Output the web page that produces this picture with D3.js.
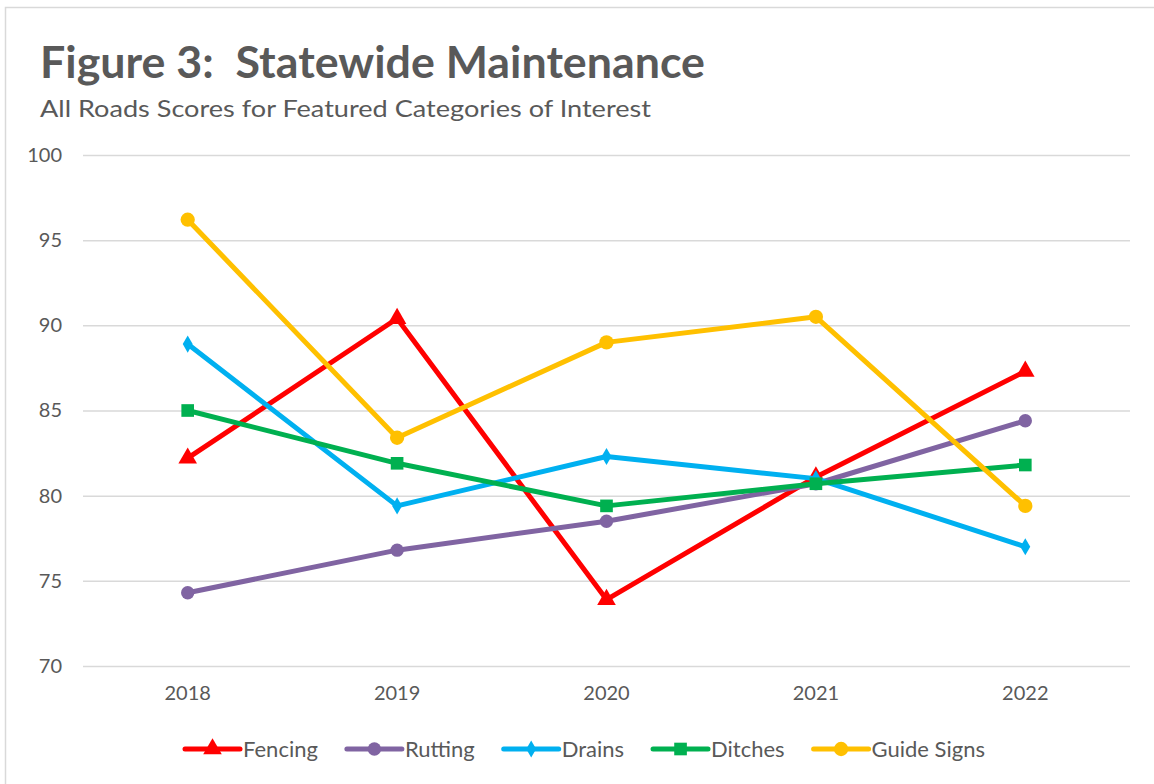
<!DOCTYPE html>
<html>
<head>
<meta charset="utf-8">
<script src="https://cdn.jsdelivr.net/npm/d3@7"></script>
<style>
  html, body { margin: 0; padding: 0; background: #fff; }
  svg { display: block; }
  text { font-family: Lato, "Open Sans", sans-serif; fill: #595959; }
</style>
</head>
<body>
<svg id="chart" width="1154" height="784"></svg>
<script>
const years = ["2018", "2019", "2020", "2021", "2022"];
const yTicks = [70, 75, 80, 85, 90, 95, 100];
const seriesNames = ["Fencing", "Rutting", "Drains", "Ditches", "Guide Signs"];
const fencing    = [82.2, 90.4, 73.9, 81.1, 87.3];
const rutting    = [74.3, 76.8, 78.5, 80.7, 84.4];
const drains     = [88.9, 79.4, 82.3, 81.0, 77.0];
const ditches    = [85.0, 81.9, 79.4, 80.7, 81.8];
const guideSigns = [96.2, 83.4, 89.0, 90.5, 79.4];
const titleText = "Figure 3:  Statewide Maintenance";
const subtitleText = "All Roads Scores for Featured Categories of Interest";

const series = [
  { name: seriesNames[0], values: fencing,    color: "#FF0000", symbol: d3.symbolTriangle, size: 150 },
  { name: seriesNames[1], values: rutting,    color: "#8064A2", symbol: d3.symbolCircle,   size: 140 },
  { name: seriesNames[2], values: drains,     color: "#00B0F0", symbol: d3.symbolDiamond,  size: 85 },
  { name: seriesNames[3], values: ditches,    color: "#00B050", symbol: d3.symbolSquare,   size: 160 },
  { name: seriesNames[4], values: guideSigns, color: "#FFC000", symbol: d3.symbolCircle,   size: 160 }
];

(function () {
const svg = d3.select("#chart");

svg.append("rect").attr("x", 5.5).attr("y", 7.5).attr("width", 1160).attr("height", 800)
  .attr("fill", "none").attr("stroke", "#d9d9d9").attr("stroke-width", 1.5);

const pLeft = 83, pRight = 1130, pTop = 155, pBottom = 666;
const x = d3.scaleBand().domain(years).range([pLeft, pRight]);
const y = d3.scaleLinear().domain([70, 100]).range([pBottom, pTop]);

svg.append("text").attr("x", 40).attr("y", 78)
  .attr("font-size", 44).attr("font-weight", "bold").attr("fill", "#595959")
  .attr("textLength", 665).attr("lengthAdjust", "spacingAndGlyphs")
  .attr("xml:space", "preserve").style("white-space", "pre").text(titleText);
svg.append("text").attr("x", 40).attr("y", 117)
  .attr("font-size", 23).attr("fill", "#595959")
  .attr("textLength", 611).attr("lengthAdjust", "spacingAndGlyphs").text(subtitleText);

const yAxis = d3.axisLeft(y).tickValues(yTicks).tickSize(-(pRight - pLeft)).tickPadding(21);
const gy = svg.append("g").attr("transform", `translate(${pLeft},0)`).call(yAxis);
gy.select(".domain").remove();
gy.selectAll(".tick line").attr("stroke", "#d9d9d9").attr("stroke-width", 1.5);
gy.selectAll(".tick text").attr("font-size", 20).attr("fill", "#595959")
  .style("font-family", "Lato, 'Open Sans', sans-serif");

const xAxis = d3.axisBottom(x).tickSize(0).tickPadding(20);
const gx = svg.append("g").attr("transform", `translate(0,${pBottom})`).call(xAxis);
gx.select(".domain").remove();
gx.selectAll(".tick text").attr("font-size", 20).attr("fill", "#595959")
  .style("font-family", "Lato, 'Open Sans', sans-serif");

const line = d3.line().x((d, i) => x(years[i]) + x.bandwidth() / 2).y(d => y(d));

series.forEach(s => {
  const g = svg.append("g");
  g.append("path").datum(s.values).attr("d", line)
    .attr("fill", "none").attr("stroke", s.color).attr("stroke-width", 5)
    .attr("stroke-linejoin", "round").attr("stroke-linecap", "round");
  g.selectAll("path.m").data(s.values).enter().append("path").attr("class", "m")
    .attr("d", d3.symbol().type(s.symbol).size(s.size))
    .attr("transform", (d, i) => `translate(${x(years[i]) + x.bandwidth() / 2},${y(d)})`)
    .attr("fill", s.color);
});

const legend = svg.append("g");
let lx = 185;
const ly = 749;
series.forEach(s => {
  const g = legend.append("g");
  g.append("line").attr("x1", lx).attr("x2", lx + 55).attr("y1", ly).attr("y2", ly)
    .attr("stroke", s.color).attr("stroke-width", 5).attr("stroke-linecap", "round");
  g.append("path").attr("d", d3.symbol().type(s.symbol).size(s.size))
    .attr("transform", `translate(${lx + 27.5},${ly})`).attr("fill", s.color);
  const t = g.append("text").attr("x", lx + 58).attr("y", ly).attr("dy", "0.35em")
    .attr("font-size", 22).attr("fill", "#595959").text(s.name);
  lx += 58 + t.node().getComputedTextLength() + 29;
});
})();
</script>
</body>
</html>
